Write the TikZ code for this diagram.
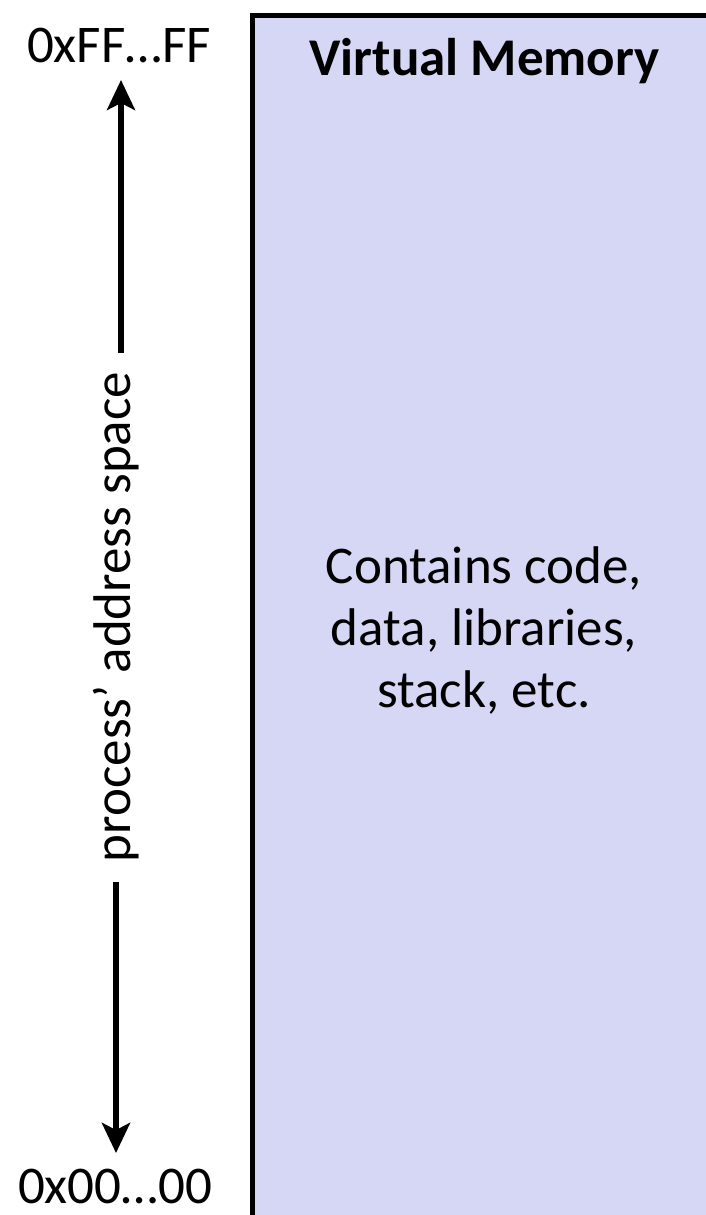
\documentclass[tikz,border=0pt]{standalone}
\usepackage{fontspec}
\setmainfont{Carlito}
\usetikzlibrary{arrows.meta}
\definecolor{vmfill}{RGB}{214,214,245}
\tikzset{
  lbl/.style={font=\fontsize{53}{62}\selectfont, inner sep=0pt},
  arr/.style={line width=5.5pt, -{Stealth[length=30pt,width=28pt,inset=7pt]}},
  vmbox/.style={draw=black, line width=5.5pt, fill=vmfill}
}
\begin{document}
\begin{tikzpicture}[x=1pt,y=-1pt]
\useasboundingbox (0,0) rectangle (706,1215);
\draw[vmbox] (252.5,15.5) rectangle (740,1260);
\node[lbl, anchor=base] (top) at (119,63) {0xFF…FF};
\node[lbl, anchor=base] (bot) at (115,1203) {0x00…00};
\node[lbl, anchor=base, font=\fontsize{53}{62}\selectfont\bfseries] (title) at (484.5,75) {Virtual Memory};
\node[lbl, anchor=base, align=center, font=\fontsize{53}{62}\selectfont] (desc) at (484,707) {Contains code,\\data, libraries,\\stack, etc.};
\node[lbl, rotate=90, anchor=base] (span) at (130,617) {process’ address space};
\coordinate (tstart) at (121,353);
\coordinate (ttip) at (121,80);
\coordinate (bstart) at (116,882);
\coordinate (btip) at (116,1153);
\draw[arr] (tstart) -- (ttip);
\draw[arr] (bstart) -- (btip);
\end{tikzpicture}
\end{document}
